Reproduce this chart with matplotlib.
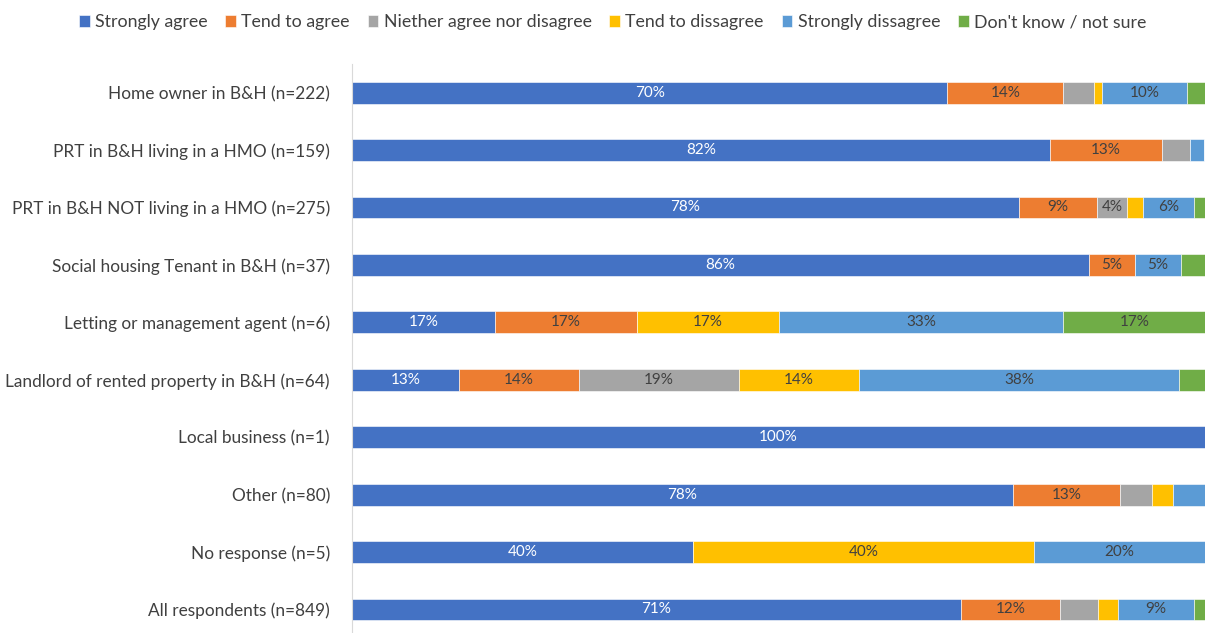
import matplotlib.pyplot as plt
import numpy as np

plt.rcParams['font.family'] = ['Lato', 'DejaVu Sans']

groups = ["Home owner in B&H (n=222)",
          "PRT in B&H living in a HMO (n=159)",
          "PRT in B&H NOT living in a HMO (n=275)",
          "Social housing Tenant in B&H (n=37)",
          "Letting or management agent (n=6)",
          "Landlord of rented property in B&H (n=64)",
          "Local business (n=1)",
          "Other (n=80)",
          "No response (n=5)",
          "All respondents (n=849)"]

answers = ["Strongly agree", "Tend to agree", "Niether agree nor disagree",
           "Tend to dissagree", "Strongly dissagree", "Don't know / not sure"]

# percentages per answer, one value per group (same order as groups)
strongly_agree = [69.8, 81.8, 78.2, 86.4, 16.7, 12.5, 100, 77.5, 40, 71.4]
tend_agree     = [13.6, 13.2,  9.1,  5.4, 16.7, 14.1,   0, 12.5,  0, 11.6]
neither        = [ 3.6,  3.3,  3.6,  0.0,  0.0, 18.75,  0, 3.75,  0,  4.5]
tend_disagree  = [ 1.0,  0.0,  1.8,  0.0, 16.7, 14.1,   0,  2.5, 40,  2.3]
strongly_dis   = [ 9.9,  1.6,  6.0,  5.4, 33.3, 37.5,   0, 3.75, 20,  8.9]
dont_know      = [ 2.1,  0.0,  1.3,  2.8, 16.7,  3.1,   0,  0.0,  0,  1.3]

colors = ["#4472C4", "#ED7D31", "#A5A5A5", "#FFC000", "#5B9BD5", "#70AD47"]

series = [strongly_agree, tend_agree, neither, tend_disagree, strongly_dis, dont_know]
extra_labels = [(2, 2)]  # the 4% grey one in the PRT NOT HMO bar

fig = plt.figure(figsize=(12.06, 6.33), dpi=100)
ax = fig.add_axes([0.292, 0.0, 0.707, 0.899])

y = np.arange(len(groups))
left = np.zeros(len(groups))
for s, (vals, col, name) in enumerate(zip(series, colors, answers)):
    vals = np.array(vals, dtype=float)
    ax.barh(y, vals, left=left, height=0.38, color=col, edgecolor='white',
            linewidth=0.4, label=name)
    for i, v in enumerate(vals):
        if v >= 5 or (i, s) in extra_labels:
            txt = "%d%%" % int(v + 0.5)
            ax.text(left[i] + v / 2, y[i], txt, ha='center', va='center',
                    fontsize=11, color='white' if s == 0 else '#404040')
    left += vals

ax.set_xlim(0, 100)
ax.set_ylim(9.41, -0.5)
ax.set_yticks(y)
ax.set_yticklabels(groups, fontsize=12.4, color='#404040')
ax.tick_params(axis='y', length=0, pad=16)
ax.set_xticks([])
for sp in ['top', 'right', 'bottom']:
    ax.spines[sp].set_visible(False)
ax.spines['left'].set_color('#D9D9D9')

fig.legend(loc='center', bbox_to_anchor=(0.508, 0.965), ncol=6, frameon=False,
           fontsize=12.8, handlelength=0.6, handleheight=0.6, handletextpad=0.3,
           columnspacing=1.0, labelcolor='#404040')

plt.savefig("out.png", dpi=100)
